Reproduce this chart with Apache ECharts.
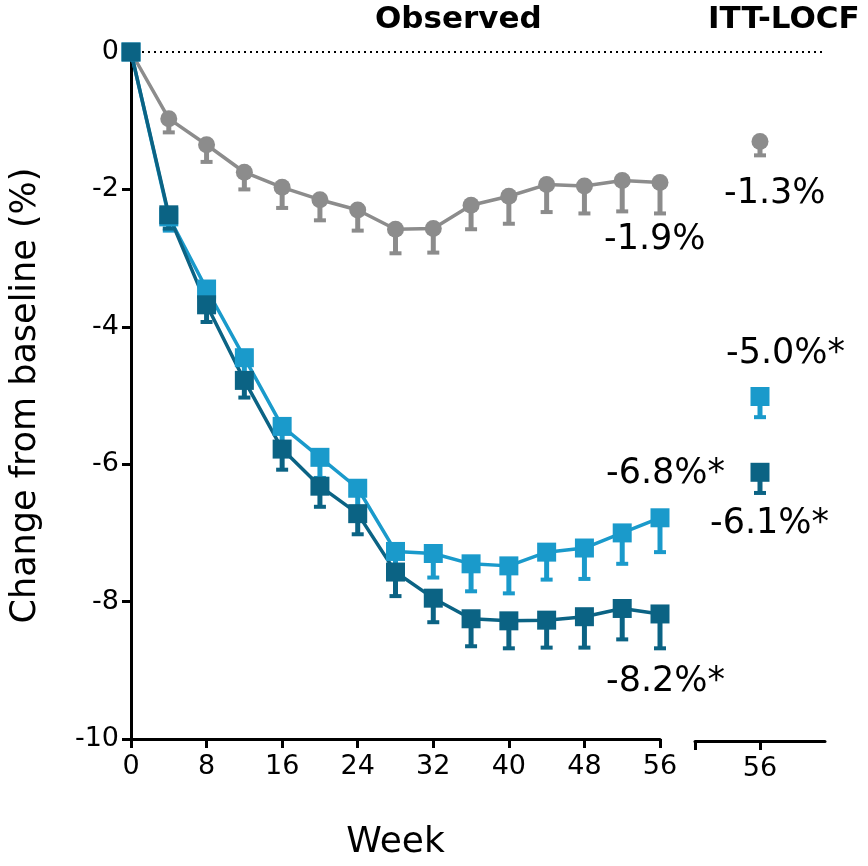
<!DOCTYPE html>
<html><head><meta charset="utf-8">
<script src="https://cdn.jsdelivr.net/npm/echarts@6/dist/echarts.min.js"></script>
<style>html,body{margin:0;padding:0;background:#fff}#c{width:868px;height:866px}</style>
</head><body><div id="c"></div>
<script>
const weeks=[0,4,8,12,16,20,24,28,32,36,40,44,48,52,56];
const placebo=[0,-0.97,-1.35,-1.75,-1.97,-2.15,-2.3,-2.58,-2.57,-2.23,-2.1,-1.93,-1.95,-1.87,-1.9];
const placeboErr=[0,0.2,0.25,0.25,0.3,0.3,0.3,0.35,0.35,0.35,0.4,0.4,0.4,0.45,0.45];
const lightS=[0,-2.4,-3.45,-4.45,-5.45,-5.9,-6.35,-7.27,-7.3,-7.45,-7.48,-7.28,-7.22,-7.0,-6.78];
const lightErr=[0,0.2,0.25,0.25,0.3,0.3,0.3,0.35,0.35,0.4,0.4,0.4,0.45,0.45,0.5];
const darkS=[0,-2.37,-3.68,-4.78,-5.78,-6.32,-6.72,-7.57,-7.95,-8.25,-8.28,-8.27,-8.22,-8.1,-8.18];
const darkErr=[0,0.2,0.25,0.25,0.3,0.3,0.3,0.35,0.35,0.4,0.4,0.4,0.45,0.45,0.5];
const ittVals=[-1.3,-5.0,-6.1];
const ittErr=[0.2,0.3,0.3];
const colors=['#8c8c8c','#1a9acb','#0b6384'];

const font='DejaVu Sans';
const chart=echarts.init(document.getElementById('c'));
function errSeries(xIdx,xs,ys,es,colorFn){
  return {type:'custom',xAxisIndex:xIdx,yAxisIndex:xIdx,z:1,
    data:xs.map((x,i)=>[x,ys[i],es[i]]),
    renderItem:(p,api)=>{
      const x=api.value(0),y=api.value(1),e=api.value(2);
      if(e<=0)return null;
      const color=colorFn(p.dataIndex);
      const a=api.coord([x,y]),b=api.coord([x,y-e]);
      return {type:'group',children:[
        {type:'line',shape:{x1:a[0],y1:a[1],x2:b[0],y2:b[1]},style:{stroke:color,lineWidth:5}},
        {type:'line',shape:{x1:b[0]-6,y1:b[1],x2:b[0]+6,y2:b[1]},style:{stroke:color,lineWidth:4}}
      ]};
    }};
}
function line(ys,color,sym){
  return {type:'line',data:weeks.map((w,i)=>[w,ys[i]]),symbol:sym,symbolSize:sym==='circle'?17:19,
    lineStyle:{color:color,width:3.5},itemStyle:{color:color},z:3};
}
const lbl={color:'#000',fontSize:27,fontFamily:font,margin:14};
const axisCommon={axisLine:{onZero:false,lineStyle:{color:'#000',width:3}},splitLine:{show:false}};
const tick={length:9,lineStyle:{color:'#000',width:3}};
chart.setOption({
  animation:false,
  grid:[{left:130,top:52,width:530,height:689},{left:695,top:52,width:130,height:689}],
  xAxis:[
    Object.assign({type:'value',gridIndex:0,min:0,max:56,interval:8,name:'Week',nameLocation:'middle',nameGap:86,
      nameTextStyle:{fontSize:36,fontFamily:font,color:'#000'},axisLabel:lbl,axisTick:tick},axisCommon),
    Object.assign({type:'value',gridIndex:1,min:0,max:2,interval:1,
      axisTick:Object.assign({customValues:[0,1]},tick),
      axisLabel:Object.assign({},lbl,{customValues:[1],formatter:()=> '56'})},axisCommon)
  ],
  yAxis:[
    Object.assign({type:'value',gridIndex:0,min:-10,max:0,interval:2,name:'Change from baseline (%)',nameLocation:'middle',nameGap:88,
      nameTextStyle:{fontSize:35,fontFamily:font,color:'#000'},axisLabel:Object.assign({},lbl,{margin:12}),axisTick:tick},axisCommon),
    {type:'value',gridIndex:1,min:-10,max:0,show:false}
  ],
  series:[
    errSeries(0,weeks,placebo,placeboErr,()=>colors[0]),
    errSeries(0,weeks,lightS,lightErr,()=>colors[1]),
    errSeries(0,weeks,darkS,darkErr,()=>colors[2]),
    line(placebo,colors[0],'circle'),
    line(lightS,colors[1],'rect'),
    line(darkS,colors[2],'rect'),
    errSeries(1,[1,1,1],ittVals,ittErr,i=>colors[i]),
    {type:'scatter',xAxisIndex:1,yAxisIndex:1,z:3,data:ittVals.map((v,i)=>({value:[1,v],symbol:i===0?'circle':'rect',symbolSize:i===0?17:19,itemStyle:{color:colors[i],opacity:1}}))}
  ],
  graphic:[
    {type:'line',shape:{x1:130,y1:52,x2:825,y2:52},style:{stroke:'#000',lineWidth:2,lineDash:[2,4]},z:0},
    {type:'text',left:375,top:4,style:{text:'Observed',font:'bold 31px "DejaVu Sans"',fill:'#000'}},
    {type:'text',left:708,top:4,style:{text:'ITT-LOCF',font:'bold 31px "DejaVu Sans"',fill:'#000'}},
    {type:'text',left:604,top:222,style:{text:'-1.9%',font:'35px "DejaVu Sans"',fill:'#000'}},
    {type:'text',left:724,top:176,style:{text:'-1.3%',font:'35px "DejaVu Sans"',fill:'#000'}},
    {type:'text',left:726,top:336,style:{text:'-5.0%*',font:'35px "DejaVu Sans"',fill:'#000'}},
    {type:'text',left:606,top:456,style:{text:'-6.8%*',font:'35px "DejaVu Sans"',fill:'#000'}},
    {type:'text',left:710,top:506,style:{text:'-6.1%*',font:'35px "DejaVu Sans"',fill:'#000'}},
    {type:'text',left:606,top:664,style:{text:'-8.2%*',font:'35px "DejaVu Sans"',fill:'#000'}}
  ]
});
</script></body></html>
